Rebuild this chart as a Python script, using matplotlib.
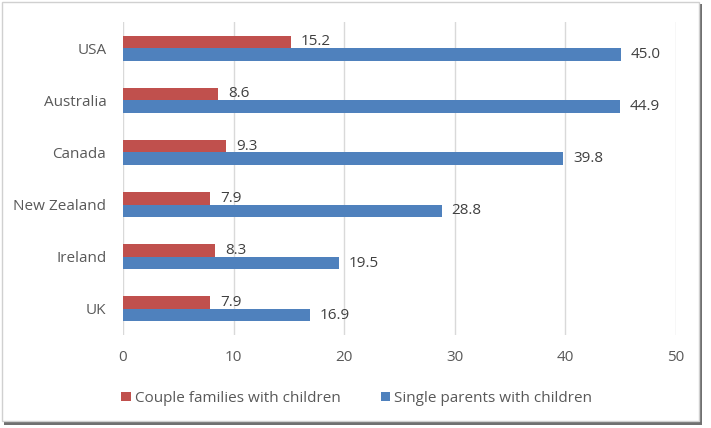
import matplotlib.pyplot as plt
import numpy as np
from matplotlib.patches import Rectangle

countries = ['USA', 'Australia', 'Canada', 'New Zealand', 'Ireland', 'UK']
couple = [15.2, 8.6, 9.3, 7.9, 8.3, 7.9]
single = [45.0, 44.9, 39.8, 28.8, 19.5, 16.9]
xticks = [0, 10, 20, 30, 40, 50]

red = '#C0504D'
blue = '#4F81BD'
txt = '#595959'

plt.rcParams['font.family'] = ['Open Sans', 'DejaVu Sans']

fig = plt.figure(figsize=(7.11, 4.28), dpi=100)

# frame with a little shadow, like the pasted screenshot
fig.patches.append(Rectangle((4 / 711, 1 - 425 / 428), 698 / 711, 421 / 428,
                             transform=fig.transFigure, facecolor='#707070',
                             edgecolor='none', zorder=-2))
fig.patches.append(Rectangle((2 / 711, 1 - 421 / 428), 697 / 711, 419 / 428,
                             transform=fig.transFigure, facecolor='white',
                             edgecolor='#D0D0D0', linewidth=1, zorder=-1))

ax = fig.add_axes([123 / 711, 1 - 335 / 428, 553 / 711, 313 / 428])
ax.set_zorder(2)
ax.set_facecolor('none')

y = np.arange(len(countries))
h = 0.24
ax.barh(y - h / 2, couple, height=h, color=red, label='Couple families with children', zorder=3)
ax.barh(y + h / 2, single, height=h, color=blue, label='Single parents with children', zorder=3)

for yi, v in zip(y, couple):
    ax.text(v + 0.9, yi - h / 2, f'{v:.1f}', va='center', ha='left', fontsize=11, color='#404040')
for yi, v in zip(y, single):
    ax.text(v + 0.9, yi + h / 2, f'{v:.1f}', va='center', ha='left', fontsize=11, color='#404040')

ax.set_xlim(0, 50)
ax.set_ylim(len(countries) - 0.5, -0.5)
ax.set_xticks(xticks)
ax.set_yticks(y)
ax.set_yticklabels(countries)
ax.tick_params(length=0, colors=txt, labelsize=11)
ax.tick_params(axis='x', pad=11)
ax.tick_params(axis='y', pad=12)
ax.grid(axis='x', color='#D9D9D9', linewidth=1, zorder=0)
for s in ax.spines.values():
    s.set_visible(False)

leg = ax.legend(loc='upper center', bbox_to_anchor=(0.423, -0.135), ncol=2, frameon=False,
                fontsize=11, handlelength=0.6, handleheight=0.6, handletextpad=0.3,
                columnspacing=2.6)
for t in leg.get_texts():
    t.set_color(txt)

fig.savefig('out.png', dpi=100)
